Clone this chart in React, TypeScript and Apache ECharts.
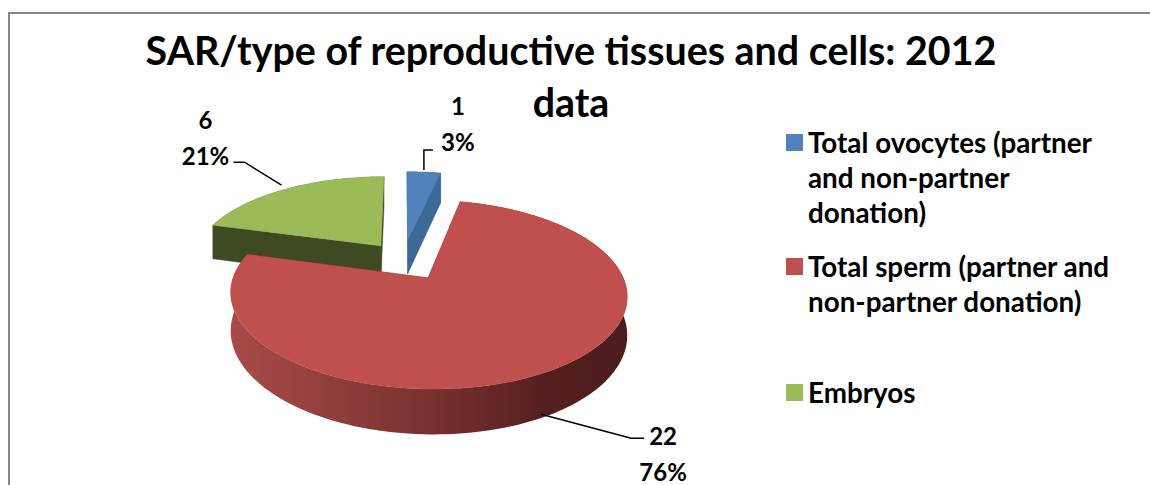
import React, { useEffect, useRef } from "react";
import * as echarts from "echarts";

// ---------------- data ----------------
const categories = [
  "Total ovocytes (partner and non-partner donation)",
  "Total sperm (partner and non-partner donation)",
  "Embryos",
];
const values = [1, 22, 6];
const legendText = [
  "Total ovocytes (partner\nand non-partner\ndonation)",
  "Total sperm (partner and\nnon-partner donation)",
  "Embryos",
];
const chartTitle = "SAR/type of reproductive tissues and cells: 2012\ndata";

// ---------------- style ----------------
const FONT = "Lato";
const topColors = ["#4f81bd", "#c0504d", "#9bbb59"];
const cutColors = ["#3d6996", "#7b302e", "#3f4922"];
const wallStops = [
  [
    [0, "#4a78ab"],
    [1, "#2c4d72"],
  ],
  [
    [0, "#a84b48"],
    [0.45, "#7d3432"],
    [0.8, "#541f1f"],
    [1, "#4c1c1c"],
  ],
  [
    [0, "#4d5a2b"],
    [1, "#3a431f"],
  ],
];
const explode = [0.245, 0.25, 0.2];
const drawZ = [2, 3, 1];
const CX = 403;
const CY = 259;
const RX = 188;
const RY = 85;
const PERSP = 0.17;
const DEPTH = 36;
const labelAtBottom = [false, true, false];
const leaderPath = [
  [
    [0, -2],
    [0, -22],
    [9, -22],
  ],
  [
    [-10, 0],
    [80, 24],
    [93, 24],
  ],
  [
    [-4, -4],
    [-41, -27],
    [-52, -27],
  ],
];
const labelOffset = [
  [34, -49],
  [112, 39],
  [-80, -52],
];
const legendIconTop = [134, 258, 384];
const LEGEND_LH = 35;
const LEGEND_ICON = 17;

const total = values.reduce((a, b) => a + b, 0);

function proj(u: number, v: number, z: number): number[] {
  const w = 1 + PERSP * v;
  return [CX + (RX * u) / w, CY + (-RY * v + DEPTH * z) / w];
}

function makeRender(idx: number) {
  return (params: any, api: any) => {
    const v = api.value(0) as number;
    const start = values.slice(0, idx).reduce((a, b) => a + b, 0);
    const a0 = (start / total) * Math.PI * 2;
    const a1 = ((start + v) / total) * Math.PI * 2;
    const mid = (a0 + a1) / 2;
    const ex = explode[idx];
    const ou = ex * Math.sin(mid);
    const ov = ex * Math.cos(mid);
    const rim = (t: number, z: number) =>
      proj(ou + Math.sin(t), ov + Math.cos(t), z);
    const N = Math.max(8, Math.ceil(((a1 - a0) / (Math.PI * 2)) * 240));
    const topArc: number[][] = [];
    const botArc: number[][] = [];
    for (let i = 0; i <= N; i++) {
      const t = a0 + ((a1 - a0) * i) / N;
      topArc.push(rim(t, 0));
      botArc.push(rim(t, 1));
    }
    const apexT = proj(ou, ov, 0);
    const apexB = proj(ou, ov, 1);
    const wall = new echarts.graphic.LinearGradient(
      0,
      0,
      1,
      0,
      wallStops[idx].map((s) => ({ offset: s[0] as number, color: s[1] as string }))
    );
    const anchor = labelAtBottom[idx] ? rim(mid, 1) : rim(mid, 0);
    const pct = Math.round((v / total) * 100);
    const lp = leaderPath[idx].map((p) => [anchor[0] + p[0], anchor[1] + p[1]]);
    const lo = labelOffset[idx];
    return {
      type: "group",
      children: [
        {
          type: "polygon",
          shape: { points: topArc.concat(botArc.slice().reverse()) },
          style: { fill: wall, stroke: "none" },
        },
        {
          type: "polygon",
          shape: { points: [apexT, topArc[0], botArc[0], apexB] },
          style: { fill: cutColors[idx], stroke: cutColors[idx], lineWidth: 0.5 },
        },
        {
          type: "polygon",
          shape: { points: [apexT, topArc[N], botArc[N], apexB] },
          style: { fill: cutColors[idx], stroke: cutColors[idx], lineWidth: 0.5 },
        },
        {
          type: "polygon",
          shape: { points: [apexT].concat(topArc) },
          style: { fill: topColors[idx], stroke: topColors[idx], lineWidth: 0.5 },
        },
        {
          type: "polyline",
          shape: { points: lp },
          style: { stroke: "#000", lineWidth: 1.5, fill: null },
        },
        {
          type: "text",
          style: {
            text: `${v}\n${pct}%`,
            x: anchor[0] + lo[0],
            y: anchor[1] + lo[1],
            fill: "#000",
            fontFamily: FONT,
            fontWeight: "bold",
            fontSize: 24,
            lineHeight: 36,
            align: "center",
            verticalAlign: "middle",
            textAlign: "center",
            textVerticalAlign: "middle",
          },
        },
      ],
    };
  };
}

export default function App() {
  const ref = useRef<HTMLDivElement>(null);
  useEffect(() => {
    if (!ref.current) return;
    const chart = echarts.init(ref.current, null, { renderer: "svg" });
    const option: any = {
      animation: false,
      backgroundColor: "#ffffff",
      title: {
        text: chartTitle,
        left: 571,
        top: 23,
        padding: 0,
        textAlign: "center",
        textStyle: {
          fontFamily: FONT,
          fontWeight: "bold",
          fontSize: 39.4,
          lineHeight: 52,
          color: "#000",
        },
      },
      legend: categories.map((name, i) => {
        const n = legendText[i].split("\n").length;
        // leading blank lines put the first text line level with the icon
        const padded = "\n".repeat(n - 1) + legendText[i];
        return {
          orient: "vertical",
          left: 786,
          top: legendIconTop[i] - ((2 * n - 1) * LEGEND_LH) / 2 + LEGEND_ICON / 2,
          padding: 0,
          data: [name],
          icon: "rect",
          itemWidth: LEGEND_ICON,
          itemHeight: LEGEND_ICON,
          selectedMode: false,
          formatter: () => padded,
          textStyle: {
            fontFamily: FONT,
            fontWeight: "bold",
            fontSize: 27.8,
            lineHeight: LEGEND_LH,
            color: "#000",
          },
        };
      }),
      graphic: [
        {
          type: "rect",
          silent: true,
          z: -10,
          shape: { x: 9, y: 13, width: 1300, height: 600 },
          style: { fill: "none", stroke: "#868686", lineWidth: 2 },
        },
      ],
      series: categories.map((name, i) => ({
        type: "custom",
        name,
        coordinateSystem: "none",
        z: drawZ[i],
        itemStyle: { color: topColors[i] },
        data: [[values[i]]],
        renderItem: makeRender(i),
      })),
    };
    chart.setOption(option);
    return () => chart.dispose();
  }, []);
  return (
    <div
      ref={ref}
      style={{ position: "fixed", left: 0, top: 0, width: 1150, height: 485 }}
    />
  );
}
